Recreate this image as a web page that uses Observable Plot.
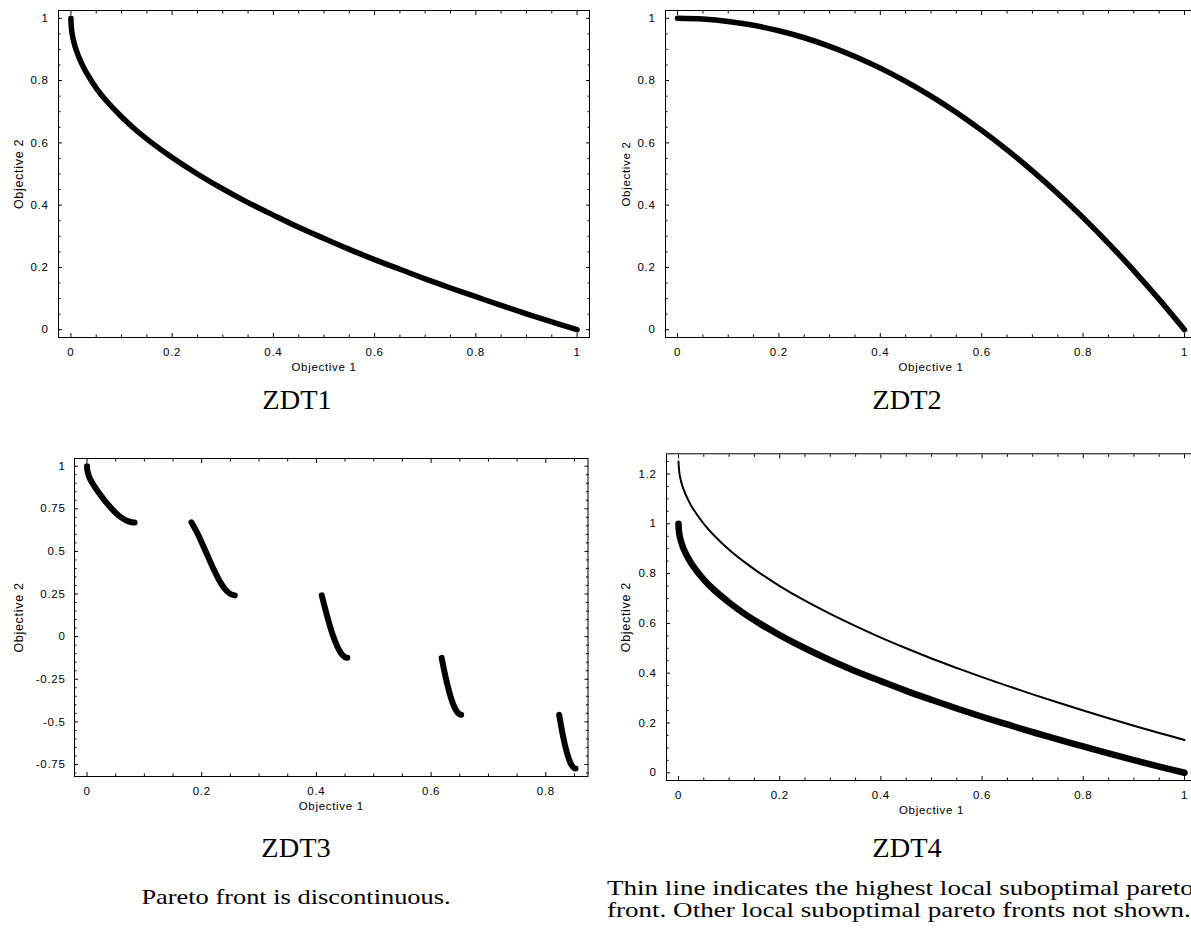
<!DOCTYPE html>
<html>
<head>
<meta charset="utf-8">
<script src="https://cdn.jsdelivr.net/npm/d3@7"></script>
<script src="https://cdn.jsdelivr.net/npm/@observablehq/plot@0.6"></script>
<style>
  html, body { margin: 0; padding: 0; background: #fff; }
  body { width: 1191px; height: 930px; overflow: hidden; position: relative; }
  .panel { position: absolute; }
  #overlay { position: absolute; left: 0; top: 0; pointer-events: none; }
</style>
</head>
<body>
<div id="p1" class="panel" style="left:0px;top:0px"></div>
<div id="p2" class="panel" style="left:600px;top:0px"></div>
<div id="p3" class="panel" style="left:0px;top:440px"></div>
<div id="p4" class="panel" style="left:600px;top:440px"></div>
<svg id="overlay" width="1191" height="930"></svg>
<script>
// ---------- Data ----------
// ZDT1 Pareto front
const zdt1X = [0, 0.0005, 0.002, 0.005, 0.01, 0.02, 0.03, 0.05, 0.07, 0.1, 0.13, 0.16, 0.2, 0.25, 0.3, 0.35, 0.4, 0.45, 0.5, 0.55, 0.6, 0.65, 0.7, 0.75, 0.8, 0.85, 0.9, 0.95, 1];
const zdt1Y = [1, 0.978, 0.955, 0.929, 0.9, 0.859, 0.827, 0.776, 0.735, 0.684, 0.639, 0.6, 0.553, 0.5, 0.452, 0.408, 0.368, 0.329, 0.293, 0.258, 0.225, 0.194, 0.163, 0.134, 0.106, 0.078, 0.051, 0.025, 0];

// ZDT2 Pareto front
const zdt2X = [0, 0.05, 0.1, 0.15, 0.2, 0.25, 0.3, 0.35, 0.4, 0.45, 0.5, 0.55, 0.6, 0.65, 0.7, 0.75, 0.8, 0.85, 0.9, 0.95, 1];
const zdt2Y = [1, 0.9975, 0.99, 0.9775, 0.96, 0.9375, 0.91, 0.8775, 0.84, 0.7975, 0.75, 0.6975, 0.64, 0.5775, 0.51, 0.4375, 0.36, 0.2775, 0.19, 0.0975, 0];

// ZDT3 discontinuous Pareto front (five pieces)
const zdt3Seg = [1,1,1,1,1,1,1,1,1,1,1,1, 2,2,2,2,2,2,2,2,2, 3,3,3,3,3,3,3,3,3,3, 4,4,4,4,4,4,4,4, 5,5,5,5,5,5,5];
const zdt3X = [0, 0.001, 0.005, 0.01, 0.02, 0.03, 0.04, 0.05, 0.06, 0.07, 0.08, 0.083,
               0.1822, 0.19, 0.2, 0.21, 0.22, 0.23, 0.24, 0.25, 0.2578,
               0.4093, 0.415, 0.42, 0.425, 0.43, 0.435, 0.44, 0.445, 0.45, 0.4539,
               0.6184, 0.625, 0.63, 0.635, 0.64, 0.645, 0.65, 0.6525,
               0.8233, 0.83, 0.835, 0.84, 0.845, 0.85, 0.8518];
const zdt3Y = [1, 0.968, 0.928, 0.897, 0.847, 0.8025, 0.762, 0.726, 0.698, 0.679, 0.670, 0.6695,
               0.6699, 0.6228, 0.5528, 0.4768, 0.4017, 0.3343, 0.2819, 0.25, 0.2422,
               0.2422, 0.1674, 0.105, 0.0476, -0.0036, -0.0471, -0.0818, -0.1066, -0.1208, -0.1242,
               -0.1245, -0.2325, -0.3034, -0.3627, -0.4087, -0.4402, -0.4562, -0.4583,
               -0.4579, -0.5825, -0.6578, -0.7153, -0.7538, -0.772, -0.7733];

// ZDT4 global Pareto front (thick) and highest local suboptimal front (thin)
const zdt4X = [0, 0.0005, 0.002, 0.005, 0.01, 0.02, 0.03, 0.05, 0.07, 0.1, 0.13, 0.16, 0.2, 0.25, 0.3, 0.35, 0.4, 0.45, 0.5, 0.55, 0.6, 0.65, 0.7, 0.75, 0.8, 0.85, 0.9, 0.95, 1];
const zdt4Y = [1, 0.978, 0.955, 0.929, 0.9, 0.859, 0.827, 0.776, 0.735, 0.684, 0.639, 0.6, 0.553, 0.5, 0.452, 0.408, 0.368, 0.329, 0.293, 0.258, 0.225, 0.194, 0.163, 0.134, 0.106, 0.078, 0.051, 0.025, 0];
const zdt4LocalX = [0, 0.002, 0.005, 0.01, 0.02, 0.03, 0.05, 0.07, 0.1, 0.13, 0.16, 0.2, 0.25, 0.3, 0.35, 0.4, 0.45, 0.5, 0.55, 0.6, 0.65, 0.7, 0.75, 0.8, 0.85, 0.9, 0.95, 1];
const zdt4LocalY = [1.25, 1.2, 1.171, 1.138, 1.092, 1.056, 1.0, 0.954, 0.896, 0.847, 0.803, 0.75, 0.691, 0.638, 0.589, 0.543, 0.5, 0.459, 0.421, 0.384, 0.349, 0.315, 0.282, 0.25, 0.219, 0.189, 0.16, 0.132];

// Tick values and labels
const ticks01 = [0, 0.2, 0.4, 0.6, 0.8, 1];
const ticks01Labels = ["0", "0.2", "0.4", "0.6", "0.8", "1"];
const zdt3XTicks = [0, 0.2, 0.4, 0.6, 0.8];
const zdt3XTickLabels = ["0", "0.2", "0.4", "0.6", "0.8"];
const zdt3YTicks = [-0.75, -0.5, -0.25, 0, 0.25, 0.5, 0.75, 1];
const zdt3YTickLabels = ["-0.75", "-0.5", "-0.25", "0", "0.25", "0.5", "0.75", "1"];
const zdt4YTicks = [0, 0.2, 0.4, 0.6, 0.8, 1, 1.2];
const zdt4YTickLabels = ["0", "0.2", "0.4", "0.6", "0.8", "1", "1.2"];

const xAxisTitle = "Objective 1";
const yAxisTitle = "Objective 2";
const panelTitles = ["ZDT1", "ZDT2", "ZDT3", "ZDT4"];
const caption3 = ["Pareto front is discontinuous."];
const caption4 = ["Thin line indicates the highest local suboptimal pareto", "front. Other local suboptimal pareto fronts not shown."];

// ---------- Helpers ----------
const toRows = (xs, ys, extra) => xs.map((x, i) => Object.assign({x, y: ys[i]}, extra ? extra(i) : {}));
const minorTicks = (lo, hi, majors) =>
  d3.range(Math.ceil(lo / 0.05 - 1e-9), Math.floor(hi / 0.05 + 1e-9) + 1)
    .map(i => +(i * 0.05).toFixed(4))
    .filter(v => !majors.some(m => Math.abs(m - v) < 1e-6));
const fmt = (ticks, labels) => d => labels[ticks.findIndex(t => Math.abs(t - d) < 1e-9)] ?? "";
const blank = () => "";

function makePanel(cfg) {
  const xMinor = minorTicks(cfg.xDomain[0], cfg.xDomain[1], cfg.xTicks);
  const yMinor = minorTicks(cfg.yDomain[0], cfg.yDomain[1], cfg.yTicks);
  const MAJ = -4, MIN = -2.5;
  const marks = [
    Plot.frame({stroke: "#000", strokeWidth: 1}),
    Plot.axisX({anchor: "bottom", ticks: cfg.xTicks, tickSize: MAJ, tickPadding: 14, tickFormat: fmt(cfg.xTicks, cfg.xLabels), label: null}),
    Plot.axisX({anchor: "bottom", ticks: xMinor, tickSize: MIN, tickFormat: blank, label: null}),
    Plot.axisX({anchor: "top", ticks: cfg.xTicks, tickSize: MAJ, tickFormat: blank, label: null}),
    Plot.axisX({anchor: "top", ticks: xMinor, tickSize: MIN, tickFormat: blank, label: null}),
    Plot.axisY({anchor: "left", ticks: cfg.yTicks, tickSize: MAJ, tickPadding: cfg.yPad, tickFormat: fmt(cfg.yTicks, cfg.yLabels), label: null}),
    Plot.axisY({anchor: "left", ticks: yMinor, tickSize: MIN, tickFormat: blank, label: null}),
    Plot.axisY({anchor: "right", ticks: cfg.yTicks, tickSize: MAJ, tickFormat: blank, label: null}),
    Plot.axisY({anchor: "right", ticks: yMinor, tickSize: MIN, tickFormat: blank, label: null}),
    ...cfg.lines,
    Plot.text([xAxisTitle], {text: d => d, frameAnchor: "bottom", textAnchor: "middle", lineAnchor: "middle", dy: 30, fontSize: 11.5}),
    Plot.text([yAxisTitle], {text: d => d, frameAnchor: "left", textAnchor: "middle", lineAnchor: "middle", rotate: -90, dx: cfg.yLabelDx, fontSize: cfg.yLabelSize})
  ];
  const plot = Plot.plot({
    width: cfg.width, height: cfg.height,
    marginLeft: cfg.mL, marginRight: cfg.mR, marginTop: cfg.mT, marginBottom: cfg.mB,
    x: {domain: cfg.xDomain},
    y: {domain: cfg.yDomain},
    style: {fontFamily: "'Liberation Sans', Arial, sans-serif", fontSize: "11.5px", letterSpacing: "0.7px", color: "#000", background: "transparent", overflow: "visible", maxWidth: "none"},
    marks
  });
  document.getElementById(cfg.id).appendChild(plot);
}

const thick = {x: "x", y: "y", stroke: "#000", strokeWidth: 5.5, strokeLinecap: "round", strokeLinejoin: "round", curve: "catmull-rom"};

makePanel({
  id: "p1", width: 600, height: 380, mL: 58, mR: 11, mT: 10, mB: 43,
  xDomain: [-0.0245, 1.0245], yDomain: [-0.025, 1.025],
  xTicks: ticks01, xLabels: ticks01Labels, yTicks: ticks01, yLabels: ticks01Labels,
  yPad: 14, yLabelDx: -40, yLabelSize: 12.5,
  lines: [Plot.line(toRows(zdt1X, zdt1Y), thick)]
});

makePanel({
  id: "p2", width: 600, height: 380, mL: 65, mR: 4, mT: 10, mB: 43,
  xDomain: [-0.0237, 1.0237], yDomain: [-0.025, 1.025],
  xTicks: ticks01, xLabels: ticks01Labels, yTicks: ticks01, yLabels: ticks01Labels,
  yPad: 14, yLabelDx: -39.5, yLabelSize: 11.5,
  lines: [Plot.line(toRows(zdt2X, zdt2Y), thick)]
});

makePanel({
  id: "p3", width: 600, height: 380, mL: 74, mR: 12.5, mT: 18, mB: 44,
  xDomain: [-0.0218, 0.8736], yDomain: [-0.8205, 1.045],
  xTicks: zdt3XTicks, xLabels: zdt3XTickLabels, yTicks: zdt3YTicks, yLabels: zdt3YTickLabels,
  yPad: 13, yLabelDx: -55.5, yLabelSize: 12.5,
  lines: [Plot.line(toRows(zdt3X, zdt3Y, i => ({seg: zdt3Seg[i]})), {...thick, z: "seg", strokeWidth: 6})]
});

makePanel({
  id: "p4", width: 600, height: 380, mL: 66, mR: 4, mT: 13.3, mB: 40,
  xDomain: [-0.0237, 1.0237], yDomain: [-0.031, 1.281],
  xTicks: ticks01, xLabels: ticks01Labels, yTicks: zdt4YTicks, yLabels: zdt4YTickLabels,
  yPad: 14, yLabelDx: -40.5, yLabelSize: 12.5,
  lines: [
    Plot.line(toRows(zdt4LocalX, zdt4LocalY), {...thick, strokeWidth: 2}),
    Plot.line(toRows(zdt4X, zdt4Y), {...thick, strokeWidth: 6.5})
  ]
});

// ---------- Titles and captions ----------
const ov = d3.select("#overlay");
const serif = "'Liberation Serif', 'Times New Roman', serif";
const titlePos = [[297, 409], [907, 409], [296, 857], [907, 857]];
panelTitles.forEach((t, i) => {
  ov.append("text")
    .attr("transform", `translate(${titlePos[i][0]},${titlePos[i][1]}) scale(1.05,1)`)
    .attr("text-anchor", "middle")
    .attr("font-family", serif).attr("font-size", 27).attr("fill", "#000")
    .text(t);
});
caption3.forEach((t, i) => {
  ov.append("text")
    .attr("transform", `translate(296,${904 + i * 22}) scale(1.2,1)`)
    .attr("text-anchor", "middle")
    .attr("font-family", serif).attr("font-size", 22).attr("fill", "#000")
    .text(t);
});
caption4.forEach((t, i) => {
  ov.append("text")
    .attr("transform", `translate(607,${895 + i * 22}) scale(1.23,1)`)
    .attr("text-anchor", "start")
    .attr("font-family", serif).attr("font-size", 22).attr("fill", "#000")
    .text(t);
});
</script>
</body>
</html>
